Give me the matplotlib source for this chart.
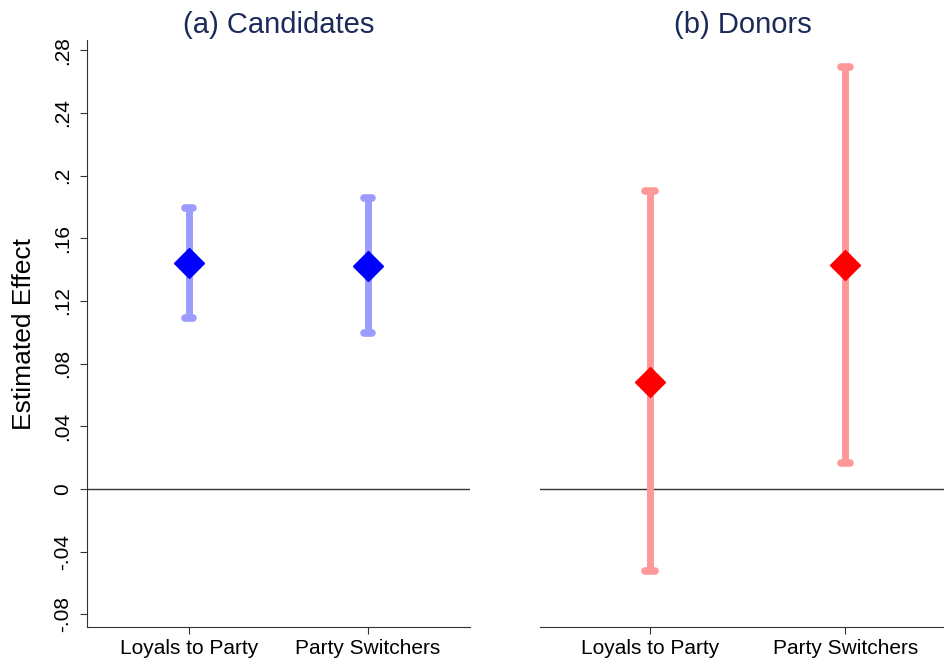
import numpy as np
import matplotlib.pyplot as plt

plt.rcParams['font.family'] = ['Liberation Sans', 'DejaVu Sans']

# Data
groups = ['Loyals to Party', 'Party Switchers']
cand_est = [0.144, 0.142]
cand_lo = [0.109, 0.0995]
cand_hi = [0.179, 0.186]
donor_est = [0.068, 0.143]
donor_lo = [-0.052, 0.0166]
donor_hi = [0.190, 0.269]

yticks = [-0.08, -0.04, 0, 0.04, 0.08, 0.12, 0.16, 0.2, 0.24, 0.28]
ylabels = ['-.08', '-.04', '0', '.04', '.08', '.12', '.16', '.2', '.24', '.28']

fig = plt.figure(figsize=(9.45, 6.6), dpi=100)
W, H = 945, 660
ax1 = fig.add_axes([87 / W, 1 - 627 / H, (470 - 87) / W, (627 - 40) / H])
ax2 = fig.add_axes([540 / W, 1 - 627 / H, (945 - 540) / W, (627 - 40) / H])

title_color = '#1c2a5a'
ymin, ymax = -0.088, 0.2865


def panel(ax, est, lo, hi, ci_color, pt_color, title, xlim):
    x = np.arange(1, len(est) + 1)
    ax.axhline(0, color='#333333', lw=1, zorder=1)
    ax.vlines(x, lo, hi, color=ci_color, lw=5, zorder=2)
    for xi, l, h in zip(x, lo, hi):
        for yv in (l, h):
            ax.plot([xi - 0.025, xi + 0.025], [yv, yv], color=ci_color, lw=5.5,
                    solid_capstyle='round', zorder=2)
    ax.plot(x, est, linestyle='none', marker='D', markersize=15,
            color=pt_color, markeredgecolor=pt_color, zorder=3)
    ax.set_xlim(*xlim)
    ax.set_ylim(ymin, ymax)
    ax.set_xticks(x)
    ax.set_xticklabels(groups, fontsize=15)
    ax.set_title(title, fontsize=21, color=title_color, pad=5)
    for s in ('top', 'right'):
        ax.spines[s].set_visible(False)
    ax.spines['bottom'].set_color('#333333')
    ax.spines['left'].set_color('#333333')
    ax.tick_params(axis='x', length=5, color='#333333', pad=4)


panel(ax1, cand_est, cand_lo, cand_hi, '#9c9cff', '#0000ff', '(a) Candidates', (0.43, 2.57))
panel(ax2, donor_est, donor_lo, donor_hi, '#ff9999', '#ff0000', '(b) Donors', (0.436, 2.51))

ax1.set_yticks(yticks)
ax1.set_yticklabels(ylabels, rotation=90, va='center', fontsize=15)
ax1.tick_params(axis='y', length=5, color='#333333', pad=6)
ax1.set_ylabel('Estimated Effect', fontsize=19, labelpad=12)

ax2.spines['left'].set_visible(False)
ax2.set_yticks([])

fig.savefig('out.png', dpi=100)
